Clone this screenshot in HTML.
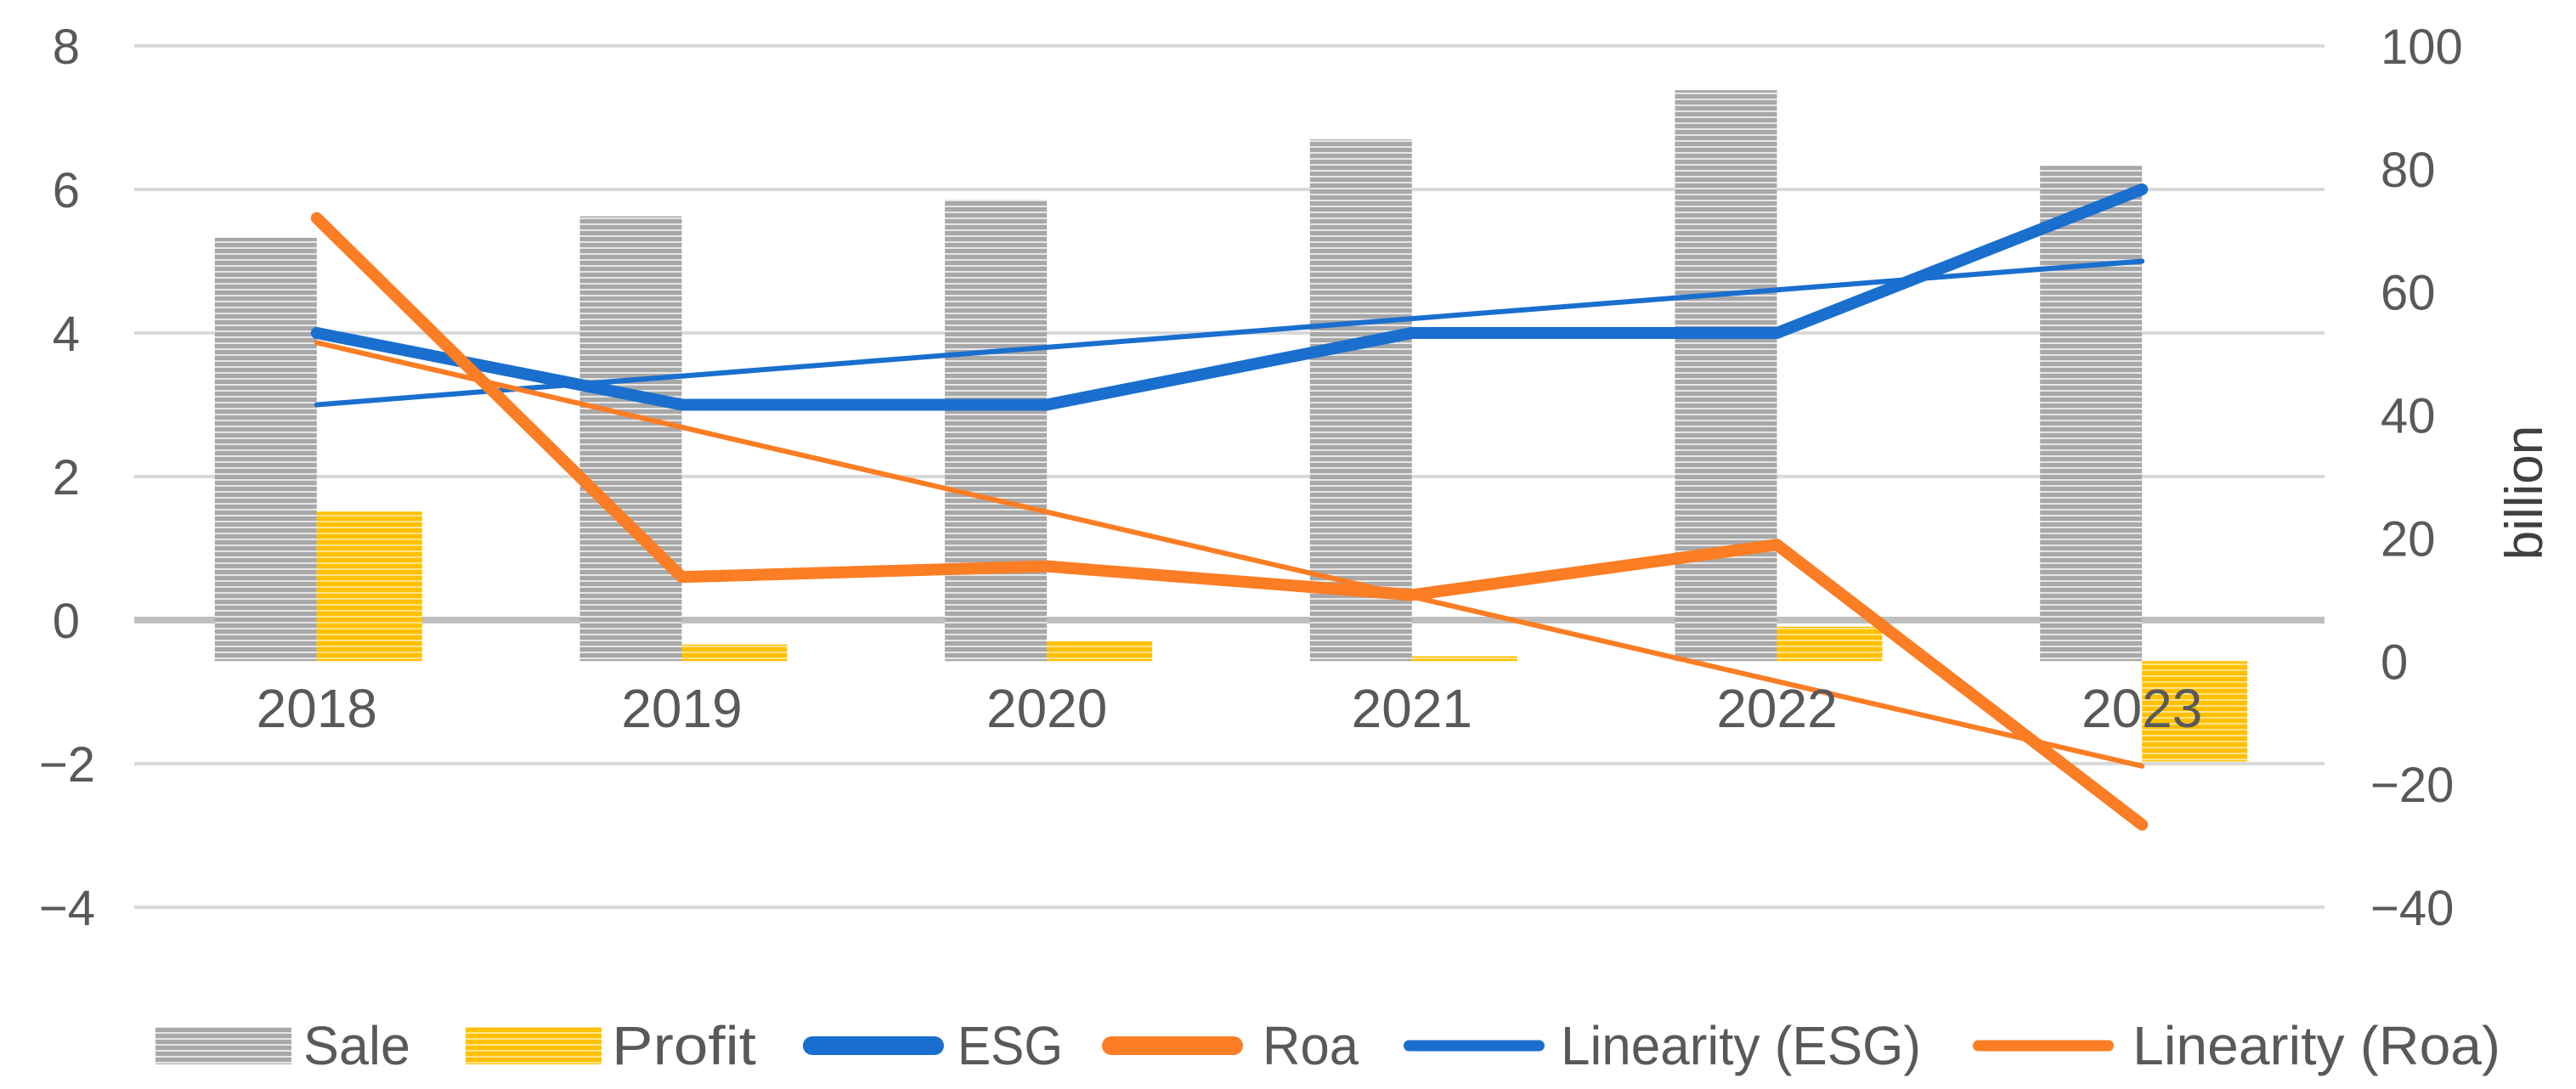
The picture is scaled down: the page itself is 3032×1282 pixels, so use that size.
<!DOCTYPE html>
<html><head><meta charset="utf-8"><style>
body{margin:0;background:#fff}
svg{display:block;font-family:"Liberation Sans",sans-serif}
</style></head><body>
<svg id="chart" width="3032" height="1282" viewBox="0 0 3032 1282">
<defs>
<pattern id="hg" width="8" height="7" patternUnits="userSpaceOnUse"><rect width="8" height="7" fill="#a8a8a8"/><rect y="4" width="8" height="2" fill="#e6e6e6"/></pattern>
<pattern id="hy" width="8" height="7" patternUnits="userSpaceOnUse"><rect width="8" height="7" fill="#ffc000"/><rect y="4" width="8" height="2" fill="#ffe38a"/></pattern>
</defs>
<g id="grid"></g><g id="bars"></g><g id="lines"></g><g id="labels"></g>
<text x="2992" y="580" transform="rotate(-90 2992 580)" text-anchor="middle" font-size="62" fill="#404040">billion</text>
<g id="legend"></g>
</svg>
<script>
const categories=["2018","2019","2020","2021","2022","2023"];
const sale=[68.8,72.3,75,84.8,92.8,80.5];
const profit=[24.3,2.7,3.2,0.8,5.6,-16.3];
const esg=[4,3,3,4,4,6];
const roa=[5.6,0.6,0.75,0.35,1.05,-2.85];
const leftTicks=[8,6,4,2,0,-2,-4];
const rightTicks=[100,80,60,40,20,0,-20,-40];
const NS="http://www.w3.org/2000/svg";
const X0=158,X1=2736,Y0=54,Y1=1068;
const yL=v=>Y0+(8-v)/12*(Y1-Y0);
const yR=v=>Y0+(100-v)/140*(Y1-Y0);
const step=(X1-X0)/categories.length;
const xC=i=>X0+step*(i+0.5);
function el(t,a,p){const e=document.createElementNS(NS,t);for(const k in a)e.setAttribute(k,a[k]);document.getElementById(p).appendChild(e);return e;}
leftTicks.forEach(v=>{
 const g=el('line',{x1:X0,x2:X1,y1:yL(v),y2:yL(v),stroke:v===0?'#bfbfbf':'#d9d9d9','stroke-width':v===0?8:4},'grid');
 
 
 const t=el('text',{x:v<0?112:94,y:yL(v)+21,'text-anchor':'end','font-size':58,fill:'#595959'},'labels');
 t.textContent=(v<0?'−':'')+Math.abs(v);
 
 
});
rightTicks.forEach(v=>{
 const t=el('text',{x:v<0?2790:2802,y:yR(v)+21,'text-anchor':'start','font-size':58,fill:'#595959'},'labels');
 t.textContent=(v<0?'−':'')+Math.abs(v);
 
 
});
const bw=120;
categories.forEach((c,i)=>{
 const s=el('rect',{x:xC(i)-bw,y:Math.min(yR(sale[i]),yR(0)),width:bw,height:Math.abs(yR(0)-yR(sale[i])),fill:'url(#hg)'},'bars');
 
 
 const p=el('rect',{x:xC(i),y:Math.min(yR(profit[i]),yR(0)),width:bw+4,height:Math.abs(yR(0)-yR(profit[i])),fill:'url(#hy)'},'bars');
 
 
 const t=el('text',{x:xC(i),y:856,'text-anchor':'middle','font-size':64,fill:'#595959'},'labels');
 t.textContent=c;
 
 
});
function trend(a){const n=a.length,mx=(n+1)/2,my=a.reduce((s,v)=>s+v,0)/n;let sxy=0,sxx=0;a.forEach((v,i)=>{sxy+=(i+1-mx)*(v-my);sxx+=(i+1-mx)**2});const b=sxy/sxx;return a.map((v,i)=>my+b*(i+1-mx));}
function line(arr,color,w,name){
 const pts=arr.map((v,i)=>xC(i)+','+yL(v)).join(' ');
 const l=el('polyline',{points:pts,fill:'none',stroke:color,'stroke-width':w,'stroke-linecap':'round','stroke-linejoin':'round'},'lines');
 
 
}
line(trend(esg),'#1a6fce',6,'esg-trendline');
line(trend(roa),'#fb7d24',6,'roa-trendline');
line(esg,'#1a6fce',14,'esg-line');
line(roa,'#fb7d24',14,'roa-line');
const leg=[['Sale','bar','url(#hg)',183,357,126],['Profit','bar','url(#hy)',548,720,170],['ESG','line','#1a6fce',945,1127,124,22],['Roa','line','#fb7d24',1297,1486,113,22],['Linearity (ESG)','line','#1a6fce',1652,1837,424,13],['Linearity (Roa)','line','#fb7d24',2322,2510,433,13]];
leg.forEach(d=>{
 const ly=1231;
 let s;
 if(d[1]==='bar') s=el('rect',{x:d[3],y:ly-22,width:160,height:44,fill:d[2]},'legend');
 else s=el('line',{x1:d[3]+d[6]/2,x2:d[3]+166-d[6]/2,y1:ly,y2:ly,stroke:d[2],'stroke-width':d[6],'stroke-linecap':'round'},'legend');
 
 
 const t=el('text',{x:d[4],y:ly+22,'font-size':64,fill:'#595959',textLength:d[5],lengthAdjust:'spacingAndGlyphs'},'legend');
 t.textContent=d[0];
 
 
});
</script>
</body></html>
